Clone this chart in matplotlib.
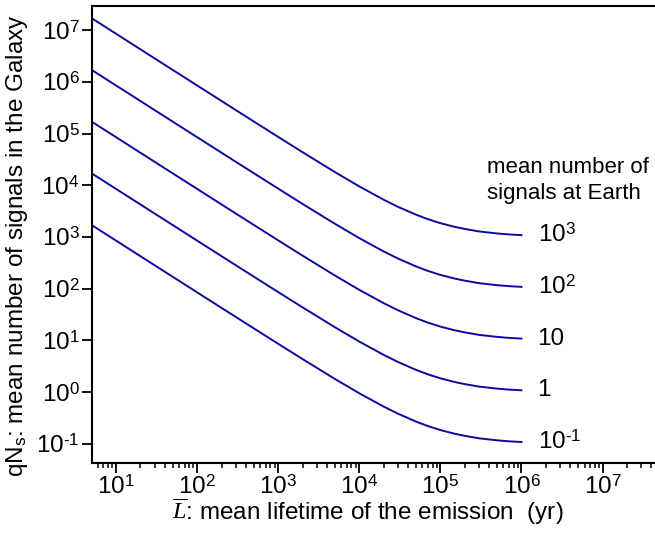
import matplotlib
matplotlib.use("Agg")
import matplotlib.pyplot as plt
from matplotlib.ticker import FixedLocator, FixedFormatter, LogLocator, NullFormatter

plt.rcParams['font.family'] = ['Liberation Sans', 'DejaVu Sans']
plt.rcParams['mathtext.fontset'] = 'custom'
plt.rcParams['mathtext.rm'] = 'Liberation Sans'
plt.rcParams['mathtext.it'] = 'Liberation Serif:italic'

# mean lifetime of the emission (yr)
lifetime = [5, 10, 30, 100, 300, 1e3, 2e3, 5e3, 1e4, 2e4, 3e4, 5e4, 7e4,
            1e5, 1.5e5, 2e5, 3e5, 5e5, 7e5, 1e6]

# qNs, one list per curve
galaxy_1e3 = [1.7e7, 8.5e6, 2.83e6, 8.5e5, 2.84e5, 8.6e4, 4.35e4, 1.8e4, 9.5e3, 5.25e3,
              3.83e3, 2.7e3, 2.21e3, 1.85e3, 1.57e3, 1.43e3, 1.28e3, 1.17e3, 1.12e3, 1.085e3]
galaxy_1e2 = [1.7e6, 8.5e5, 2.83e5, 8.5e4, 2.84e4, 8.6e3, 4.35e3, 1.8e3, 9.5e2, 5.25e2,
              3.83e2, 2.7e2, 2.21e2, 1.85e2, 1.57e2, 1.43e2, 1.28e2, 1.17e2, 1.12e2, 1.085e2]
galaxy_1e1 = [1.7e5, 8.5e4, 2.83e4, 8.5e3, 2.84e3, 8.6e2, 4.35e2, 1.8e2, 95, 52.5,
              38.3, 27, 22.1, 18.5, 15.7, 14.3, 12.8, 11.7, 11.2, 10.85]
galaxy_1e0 = [1.7e4, 8.5e3, 2.83e3, 8.5e2, 2.84e2, 86, 43.5, 18, 9.5, 5.25,
              3.83, 2.7, 2.21, 1.85, 1.57, 1.43, 1.28, 1.17, 1.12, 1.085]
galaxy_1e_1 = [1.7e3, 8.5e2, 2.83e2, 85, 28.4, 8.6, 4.35, 1.8, 0.95, 0.525,
               0.383, 0.27, 0.221, 0.185, 0.157, 0.143, 0.128, 0.117, 0.112, 0.1085]

curves = [galaxy_1e3, galaxy_1e2, galaxy_1e1, galaxy_1e0, galaxy_1e_1]
curve_labels = ['10$^{\\text{3}}$', '10$^{\\text{2}}$', '10', '1', '10$^{\\text{-1}}$']

xticks = [1e1, 1e2, 1e3, 1e4, 1e5, 1e6, 1e7]
xticklabels = ['10$^{\\text{%d}}$' % k for k in range(1, 8)]
yticks = [1e-1, 1e0, 1e1, 1e2, 1e3, 1e4, 1e5, 1e6, 1e7]
yticklabels = ['10$^{\\text{%d}}$' % k for k in range(-1, 8)]

fig = plt.figure(figsize=(6.55, 5.36), dpi=100)
ax = fig.add_axes([92 / 655, 73 / 536, 620 / 655, 457 / 536])

for y, lab in zip(curves, curve_labels):
    ax.plot(lifetime, y, color='#0a0a9e', lw=1.4)
    ax.text(1.58e6, y[-1], lab, fontsize=17.5, ha='left', va='center')

ax.text(3.8e5, 1.25e4, 'mean number of\nsignals at Earth', fontsize=16,
        ha='left', va='center', linespacing=1.3)

ax.set_xscale('log')
ax.set_yscale('log')
ax.set_xlim(5.05, 10 ** 8.35)
ax.set_ylim(10 ** -1.37, 10 ** 7.466)

ax.xaxis.set_major_locator(FixedLocator(xticks))
ax.xaxis.set_major_formatter(FixedFormatter(xticklabels))
ax.xaxis.set_minor_locator(LogLocator(base=10, subs=range(2, 10), numticks=20))
ax.xaxis.set_minor_formatter(NullFormatter())
ax.yaxis.set_major_locator(FixedLocator(yticks))
ax.yaxis.set_major_formatter(FixedFormatter(yticklabels))
ax.yaxis.set_minor_locator(FixedLocator([]))

ax.tick_params(which='major', direction='out', length=7, width=1.3, labelsize=17.5, pad=2)
ax.tick_params(which='minor', direction='out', length=3.5, width=1.1)
for s in ax.spines.values():
    s.set_linewidth(1.5)

ax.set_xlabel('$\\overline{L}$: mean lifetime of the emission  (yr)', fontsize=17.5)
ax.set_ylabel('qN$_{\\text{s}}$: mean number of signals in the Galaxy', fontsize=17.5)
ax.xaxis.set_label_coords((368 - 92) / 620, -(497 - 463) / 457)
ax.yaxis.set_label_coords((30 - 92) / 620, (463 - 246) / 457)

fig.savefig('out.png', dpi=100)
